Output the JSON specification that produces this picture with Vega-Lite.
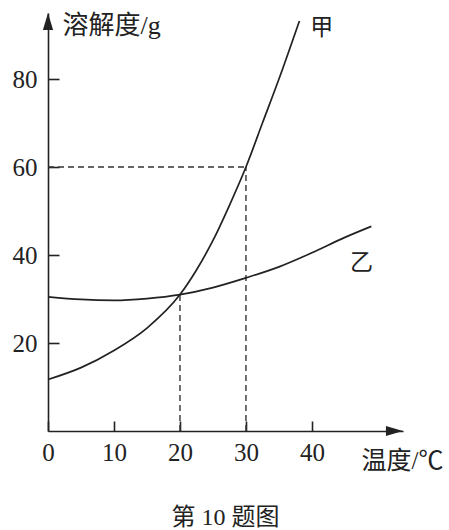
{
  "$schema": "https://vega.github.io/schema/vega-lite/v6.json",
  "autosize": {"type": "none"},
  "width": 355,
  "height": 418,
  "padding": {"left": 48, "top": 13, "right": 46, "bottom": 99},
  "background": "white",
  "title": {"text": "第 10 题图", "orient": "bottom", "anchor": "middle", "fontSize": 24, "fontWeight": "normal", "font": "Liberation Serif, Noto Sans CJK SC", "color": "#222", "offset": 33},
  "config": {
    "view": {"stroke": null},
    "font": "Liberation Serif, Noto Sans CJK SC",
    "axis": {"grid": false, "labelFlush": false, "labelOverlap": false, "domainColor": "#222", "domainWidth": 1.6, "tickColor": "#222", "tickWidth": 1.6, "labelColor": "#222", "labelFontSize": 25, "labelFont": "Liberation Serif, Noto Sans CJK SC", "titleColor": "#222", "titleFontWeight": "normal", "titleFont": "Liberation Serif, Noto Sans CJK SC"}
  },
  "datasets": {
    "curves": [
      {"series": "甲", "t": 0, "s": 11.7},
      {"series": "甲", "t": 5, "s": 14.4},
      {"series": "甲", "t": 10, "s": 18.3},
      {"series": "甲", "t": 15, "s": 23.4},
      {"series": "甲", "t": 20, "s": 31},
      {"series": "甲", "t": 22.5, "s": 36.6},
      {"series": "甲", "t": 25, "s": 43.3},
      {"series": "甲", "t": 27.5, "s": 51.3},
      {"series": "甲", "t": 30, "s": 60},
      {"series": "甲", "t": 32.5, "s": 70},
      {"series": "甲", "t": 35, "s": 80},
      {"series": "甲", "t": 38.1, "s": 93.2},
      {"series": "乙", "t": 0, "s": 30.5},
      {"series": "乙", "t": 5, "s": 29.9},
      {"series": "乙", "t": 10, "s": 29.7},
      {"series": "乙", "t": 15, "s": 30.1},
      {"series": "乙", "t": 20, "s": 31},
      {"series": "乙", "t": 25, "s": 32.6},
      {"series": "乙", "t": 30, "s": 34.8},
      {"series": "乙", "t": 35, "s": 37.3},
      {"series": "乙", "t": 40, "s": 40.5},
      {"series": "乙", "t": 45, "s": 44},
      {"series": "乙", "t": 49, "s": 46.5}
    ],
    "guides": [
      {"x": 0, "y": 60, "x2": 30, "y2": 60},
      {"x": 30, "y": 0, "x2": 30, "y2": 60},
      {"x": 20, "y": 0, "x2": 20, "y2": 31}
    ],
    "arrows": [
      {"x": 52.5, "y": 0, "dir": "right"},
      {"x": 0, "y": 93.07, "dir": "up"}
    ],
    "labels": [
      {"x": 41.5, "y": 91.5, "label": "甲"},
      {"x": 47.5, "y": 38.1, "label": "乙"}
    ]
  },
  "layer": [
    {
      "data": {"name": "guides"},
      "mark": {"type": "rule", "strokeDash": [6, 4], "strokeWidth": 1.4, "color": "#333"},
      "encoding": {
        "x": {"field": "x", "type": "quantitative", "scale": {"domain": [0, 53.8], "nice": false, "zero": false},
          "axis": {"values": [0, 10, 20, 30, 40], "tickSize": -10, "labelPadding": 19, "title": "温度/℃", "titleFontSize": 25, "titleX": 354, "titleY": 29, "titleAlign": "center", "titleBaseline": "middle", "titleAngle": 0}},
        "y": {"field": "y", "type": "quantitative", "scale": {"domain": [0, 95], "nice": false, "zero": false},
          "axis": {"values": [20, 40, 60, 80], "tickSize": -11, "labelPadding": 22, "title": "溶解度/g", "titleFontSize": 26, "titleX": 14, "titleY": 12, "titleAlign": "left", "titleBaseline": "middle", "titleAngle": 0}},
        "x2": {"field": "x2"},
        "y2": {"field": "y2"}
      }
    },
    {
      "data": {"name": "curves"},
      "mark": {"type": "line", "interpolate": "monotone", "strokeWidth": 1.7, "color": "#222"},
      "encoding": {
        "x": {"field": "t", "type": "quantitative"},
        "y": {"field": "s", "type": "quantitative"},
        "detail": {"field": "series"}
      }
    },
    {
      "data": {"name": "arrows"},
      "mark": {"type": "point", "filled": true, "size": 289, "opacity": 1, "color": "#222", "strokeWidth": 0},
      "encoding": {
        "x": {"field": "x", "type": "quantitative"},
        "y": {"field": "y", "type": "quantitative"},
        "shape": {"field": "dir", "type": "nominal", "scale": {"domain": ["right", "up"], "range": ["M-1,-0.6L1,0L-1,0.6Z", "M-0.6,1L0,-1L0.6,1Z"]}, "legend": null}
      }
    },
    {
      "data": {"name": "labels"},
      "mark": {"type": "text", "fontSize": 23, "color": "#222", "align": "center", "baseline": "middle"},
      "encoding": {
        "x": {"field": "x", "type": "quantitative"},
        "y": {"field": "y", "type": "quantitative"},
        "text": {"field": "label"}
      }
    }
  ]
}
